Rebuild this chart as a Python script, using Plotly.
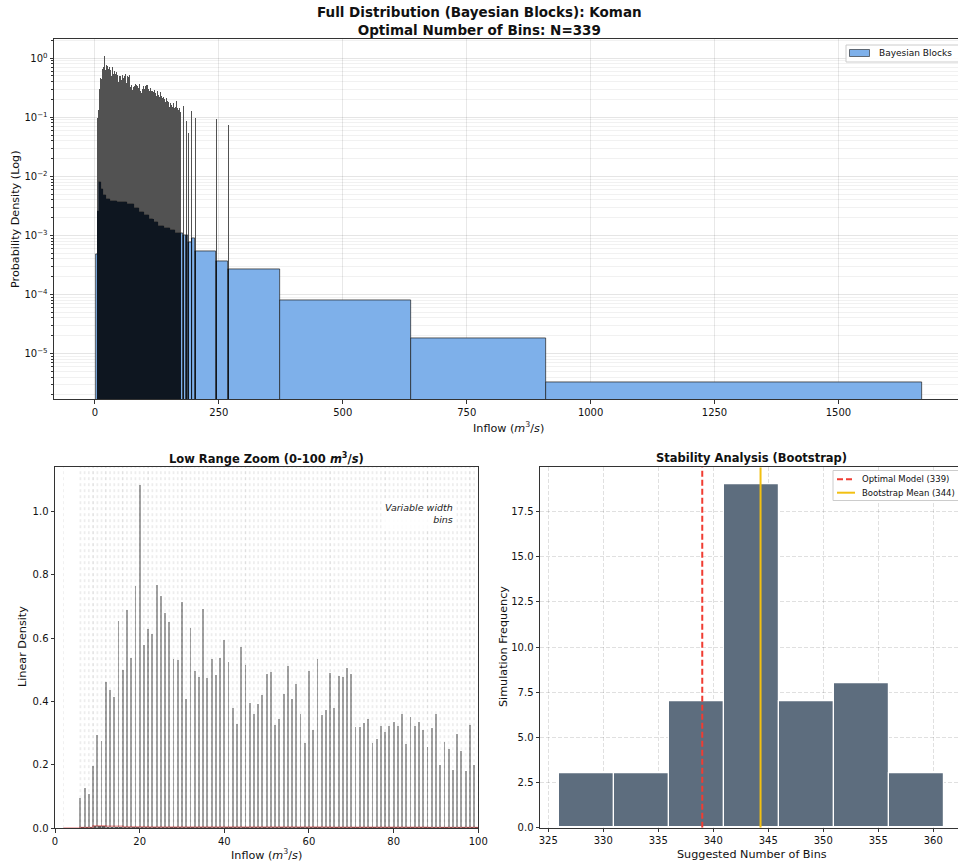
import numpy as np
import plotly.graph_objects as go

# ---------------- data ----------------
# narrow "spike" blocks sitting on integer inflow values
spike_x_low = list(range(6, 100))
spike_h_low = [0.096, 0.129, 0.110, 0.197, 0.294, 0.275, 0.462, 0.437, 0.414, 0.655,
               0.500, 0.689, 0.539, 0.766, 1.085, 0.579, 0.629, 0.616, 0.768, 0.736,
               0.681, 0.652, 0.536, 0.532, 0.714, 0.410, 0.632, 0.499, 0.479, 0.694,
               0.474, 0.537, 0.484, 0.539, 0.596, 0.525, 0.382, 0.329, 0.573, 0.515,
               0.398, 0.362, 0.392, 0.421, 0.488, 0.494, 0.326, 0.347, 0.426, 0.512,
               0.408, 0.455, 0.362, 0.269, 0.499, 0.312, 0.535, 0.360, 0.374, 0.492,
               0.381, 0.481, 0.478, 0.507, 0.488, 0.320, 0.320, 0.332, 0.346, 0.270,
               0.282, 0.324, 0.305, 0.324, 0.335, 0.325, 0.363, 0.266, 0.352, 0.323,
               0.336, 0.312, 0.259, 0.316, 0.362, 0.200, 0.273, 0.252, 0.184, 0.300,
               0.244, 0.181, 0.328, 0.201]
spike_x_mid = list(range(100, 173))
spike_h_mid = [0.30, 0.24, 0.33, 0.22, 0.28, 0.35, 0.21, 0.26, 0.30, 0.19,
               0.27, 0.25, 0.31, 0.20, 0.24, 0.28, 0.18, 0.23, 0.26, 0.21,
               0.29, 0.17, 0.22, 0.25, 0.19, 0.23, 0.27, 0.16, 0.21, 0.24,
               0.18, 0.22, 0.26, 0.15, 0.20, 0.23, 0.17, 0.21, 0.19, 0.22,
               0.16, 0.20, 0.18, 0.14, 0.21, 0.17, 0.19, 0.13, 0.16, 0.18,
               0.15, 0.12, 0.17, 0.14, 0.16, 0.11, 0.15, 0.13, 0.17, 0.12,
               0.14, 0.10, 0.15, 0.13, 0.19, 0.12, 0.14, 0.10, 0.13, 0.11,
               0.14, 0.09, 0.12]
spike_x_sparse = [178, 184, 188, 195, 202, 245, 269]
spike_h_sparse = [0.152, 0.085, 0.054, 0.125, 0.097, 0.091, 0.074]
spike_half_width = 0.1

# wide blocks between / beyond the spikes
gap_edges = [2.0, 5.9, 9, 12, 16, 22, 30, 45, 65, 78, 88, 98, 108, 118, 128, 140,
             152, 162, 172, 178, 184, 188, 195, 202, 245, 269, 373, 638, 910, 1669]
gap_density = [4.7e-4, 2.6e-3, 8.0e-3, 6.0e-3, 4.8e-3, 4.1e-3, 3.8e-3, 3.6e-3,
               3.3e-3, 2.9e-3, 2.5e-3, 2.2e-3, 1.9e-3, 1.65e-3, 1.45e-3, 1.3e-3,
               1.2e-3, 1.1e-3, 1.1e-3, 1.0e-3, 1.0e-3, 7.7e-4, 9.1e-4, 5.3e-4,
               3.7e-4, 2.65e-4, 7.9e-5, 1.8e-5, 3.2e-6]

# bootstrap stability histogram
boot_edges = [326, 331, 336, 341, 346, 351, 356, 361]
boot_counts = [3, 3, 7, 19, 7, 8, 3]
optimal_bins = 339
bootstrap_mean = 344.3

top_xticks = [0, 250, 500, 750, 1000, 1250, 1500]
top_yticks = [1e-5, 1e-4, 1e-3, 1e-2, 1e-1, 1]
top_yticktext = ["10<sup>\u22125</sup>", "10<sup>\u22124</sup>", "10<sup>\u22123</sup>",
                 "10<sup>\u22122</sup>", "10<sup>\u22121</sup>", "10<sup>0</sup>"]

# ---------------- derived ----------------
spike_x = np.array(spike_x_low + spike_x_mid + spike_x_sparse, dtype=float)
spike_h = np.array(spike_h_low + spike_h_mid + spike_h_sparse, dtype=float)
ge = np.array(gap_edges, dtype=float)
gd = np.array(gap_density, dtype=float)
gap_c = (ge[:-1] + ge[1:]) / 2
gap_w = np.diff(ge)
idx = np.clip(np.searchsorted(ge, spike_x, side="right") - 1, 0, len(gd) - 1)
spike_lower = np.minimum(spike_h, gd[idx])

W, H = 958, 864
FONT = "DejaVu Sans"
BLUE = "#7eb0ea"
RED = "#f03c32"
GOLD = "#f2c012"
low_ymax = 1.142
boot_ymax = 19.95
LABEL_SIZE = 11.2
LEG_SIZE = 8.5

fig = go.Figure()

# ---- top: full distribution (log) ----
fig.add_trace(go.Bar(x=spike_x, y=spike_h, width=2 * spike_half_width,
                     marker=dict(color="#525252", line=dict(width=0)),
                     showlegend=False, hoverinfo="skip", xaxis="x", yaxis="y"))
fig.add_trace(go.Bar(x=gap_c, y=gd, width=gap_w, name="Bayesian Blocks",
                     marker=dict(color=BLUE, line=dict(color="#1c1c1c", width=0.7)),
                     showlegend=False, xaxis="x", yaxis="y"))
fig.add_trace(go.Bar(x=spike_x, y=spike_lower, width=2 * spike_half_width,
                     marker=dict(color="#0e1620", line=dict(width=0)),
                     showlegend=False, hoverinfo="skip", xaxis="x", yaxis="y"))

# ---- bottom-left: low range zoom (linear) ----
sel_edges = sorted(set([e for e in gap_edges if 0 <= e <= 100] +
                       [x - spike_half_width for x in spike_x_low] +
                       [x + spike_half_width for x in spike_x_low]))
ex, ey = [], []
for e in sel_edges:
    ex += [e, e, None]
    ey += [0, low_ymax, None]
fig.add_trace(go.Scatter(x=ex, y=ey, mode="lines",
                         line=dict(color="rgba(0,0,0,0.09)", width=0.7, dash="dot"),
                         showlegend=False, hoverinfo="skip", xaxis="x2", yaxis="y2"))
fig.add_trace(go.Bar(x=gap_c, y=gd, width=gap_w,
                     marker=dict(color="#555555", line=dict(width=0)),
                     showlegend=False, hoverinfo="skip", xaxis="x2", yaxis="y2"))
fig.add_trace(go.Bar(x=spike_x_low, y=spike_h_low, width=2 * spike_half_width,
                     marker=dict(color="#a3a3a3", line=dict(width=0)),
                     showlegend=False, xaxis="x2", yaxis="y2"))
fig.add_trace(go.Scatter(x=list(ge) + [ge[-1]], y=list(gd) + [gd[-1]], mode="lines",
                         line=dict(color="rgba(214,50,50,0.45)", width=1.5, shape="hv"),
                         showlegend=False, hoverinfo="skip", xaxis="x2", yaxis="y2"))

# ---- bottom-right: bootstrap stability ----
be = np.array(boot_edges, dtype=float)
fig.add_trace(go.Bar(x=(be[:-1] + be[1:]) / 2, y=boot_counts, width=np.diff(be),
                     marker=dict(color="#5d6d7e", line=dict(color="white", width=1.2)),
                     showlegend=False, xaxis="x3", yaxis="y3"))
fig.add_trace(go.Scatter(x=[optimal_bins, optimal_bins], y=[0, boot_ymax], mode="lines",
                         line=dict(color=RED, width=2, dash="6px,3px"),
                         name=f"Optimal Model ({optimal_bins})", showlegend=False,
                         xaxis="x3", yaxis="y3"))
fig.add_trace(go.Scatter(x=[bootstrap_mean, bootstrap_mean], y=[0, boot_ymax], mode="lines",
                         line=dict(color=GOLD, width=2),
                         name=f"Bootstrap Mean ({round(bootstrap_mean)})", showlegend=False,
                         xaxis="x3", yaxis="y3"))

axis_common = dict(showline=True, linecolor="#333333", linewidth=1, ticks="outside",
                   ticklen=3.5, tickcolor="#333333", tickfont=dict(size=10, color="#111"),
                   zeroline=False, automargin=False)

def px_x(v):
    return v / W

def px_y(v):
    return 1 - v / H

minor_vals = [m * 10.0 ** p for p in range(-6, 1) for m in range(2, 10)]
GRID_DASH = "4px,2px"

fig.update_layout(
    width=W, height=H, margin=dict(l=0, r=0, t=0, b=0, autoexpand=False),
    paper_bgcolor="white", plot_bgcolor="white",
    font=dict(family=FONT, color="#111"),
    barmode="overlay", bargap=0, showlegend=False,
    xaxis=dict(domain=[px_x(54), 1.0], range=[-82.7, 1741.3], anchor="y",
               tickvals=top_xticks, showgrid=True, gridcolor="rgba(0,0,0,0.09)",
               mirror=True, **axis_common),
    yaxis=dict(domain=[px_y(399), px_y(39.3)], type="log", range=[-5.77, 0.32], anchor="x",
               tickvals=top_yticks, ticktext=top_yticktext, showgrid=True,
               gridcolor="rgba(0,0,0,0.1)", mirror=False,
               minor=dict(tickvals=minor_vals, ticks="outside", ticklen=2,
                          tickcolor="#333333", showgrid=True,
                          gridcolor="rgba(0,0,0,0.055)"),
               **axis_common),
    xaxis2=dict(domain=[px_x(55), px_x(478.3)], range=[0, 100], anchor="y2",
                tickvals=[0, 20, 40, 60, 80, 100], showgrid=False, mirror=True, **axis_common),
    yaxis2=dict(domain=[px_y(828.2), px_y(466.7)], range=[0, low_ymax], anchor="x2",
                tickvals=[0, 0.2, 0.4, 0.6, 0.8, 1.0], tickformat=".1f", showgrid=False,
                mirror=True, **axis_common),
    xaxis3=dict(domain=[px_x(540), 1.0], range=[324.25, 362.25], anchor="y3",
                tickvals=[325, 330, 335, 340, 345, 350, 355, 360], showgrid=True,
                gridcolor="rgba(0,0,0,0.12)", griddash=GRID_DASH, mirror=True, **axis_common),
    yaxis3=dict(domain=[px_y(827.7), px_y(467.3)], range=[0, boot_ymax], anchor="x3",
                tickvals=[0, 2.5, 5, 7.5, 10, 12.5, 15, 17.5], tickformat=".1f",
                showgrid=True, gridcolor="rgba(0,0,0,0.12)", griddash=GRID_DASH,
                mirror=False, **axis_common),
)

# ---- hand-drawn legends (paper pixel coordinates) ----
shapes = [
    # top legend box + patch
    dict(type="rect", x0=px_x(846), x1=px_x(966), y0=px_y(45), y1=px_y(62),
         line=dict(color="#cccccc", width=1), fillcolor="rgba(255,255,255,0.9)"),
    dict(type="rect", x0=px_x(849.5), x1=px_x(869.5), y0=px_y(49.5), y1=px_y(56.5),
         line=dict(color="#1c1c1c", width=0.6), fillcolor=BLUE),
    # bottom-right legend box + line samples
    dict(type="rect", x0=px_x(833), x1=px_x(966), y0=px_y(470.5), y1=px_y(500.5),
         line=dict(color="#cccccc", width=1), fillcolor="rgba(255,255,255,0.9)"),
    dict(type="line", x0=px_x(837), x1=px_x(855), y0=px_y(479.3), y1=px_y(479.3),
         line=dict(color=RED, width=2, dash="6px,3px")),
    dict(type="line", x0=px_x(837), x1=px_x(855), y0=px_y(492.7), y1=px_y(492.7),
         line=dict(color=GOLD, width=2)),
]
for s in shapes:
    s.update(xref="paper", yref="paper", layer="above")
fig.update_layout(shapes=shapes)

M3S = "<i>m</i><sup>3</sup>/<i>s</i>"
ann = [
    dict(text="<b>Full Distribution (Bayesian Blocks): Koman</b><br><b>Optimal Number of Bins: N=339</b>",
         x=0.5, y=px_y(20.5), xanchor="center", yanchor="middle", font=dict(size=13.5)),
    dict(text=f"Inflow ({M3S})", x=px_x(508.5), y=px_y(427), xanchor="center",
         yanchor="middle", font=dict(size=LABEL_SIZE)),
    dict(text="Probability Density (Log)", x=px_x(15), y=px_y(219), textangle=-90,
         xanchor="center", yanchor="middle", font=dict(size=LABEL_SIZE)),
    dict(text=f"<b>Low Range Zoom (0-100 {M3S})</b>", x=px_x(266.7), y=px_y(458),
         xanchor="center", yanchor="middle", font=dict(size=11.5)),
    dict(text=f"Inflow ({M3S})", x=px_x(266.7), y=px_y(854), xanchor="center",
         yanchor="middle", font=dict(size=LABEL_SIZE)),
    dict(text="Linear Density", x=px_x(22), y=px_y(647), textangle=-90,
         xanchor="center", yanchor="middle", font=dict(size=LABEL_SIZE)),
    dict(text="<i>Variable width</i><br><i>bins</i>", x=px_x(457), y=px_y(513),
         xanchor="right", yanchor="middle", align="right", font=dict(size=9.5, color="#222"),
         bgcolor="rgba(255,255,255,0.85)", borderpad=3),
    dict(text="<b>Stability Analysis (Bootstrap)</b>", x=px_x(751.7), y=px_y(458),
         xanchor="center", yanchor="middle", font=dict(size=11.5)),
    dict(text="Suggested Number of Bins", x=px_x(752), y=px_y(854), xanchor="center",
         yanchor="middle", font=dict(size=LABEL_SIZE)),
    dict(text="Simulation Frequency", x=px_x(503), y=px_y(647), textangle=-90,
         xanchor="center", yanchor="middle", font=dict(size=LABEL_SIZE)),
    # legend labels
    dict(text="Bayesian Blocks", x=px_x(876.5), y=px_y(53), xanchor="left",
         yanchor="middle", font=dict(size=9, color="#111")),
    dict(text=f"Optimal Model ({optimal_bins})", x=px_x(860), y=px_y(479.3), xanchor="left",
         yanchor="middle", font=dict(size=LEG_SIZE, color="#111")),
    dict(text=f"Bootstrap Mean ({round(bootstrap_mean)})", x=px_x(860), y=px_y(492.7),
         xanchor="left", yanchor="middle", font=dict(size=LEG_SIZE, color="#111")),
]
for a in ann:
    a.update(xref="paper", yref="paper", showarrow=False)
fig.update_layout(annotations=ann)

fig.write_html(
    "out.html",
    config={"displayModeBar": False},
    post_script="document.body.style.margin='0';document.body.style.padding='0';"
                "document.body.style.overflow='hidden';",
)
